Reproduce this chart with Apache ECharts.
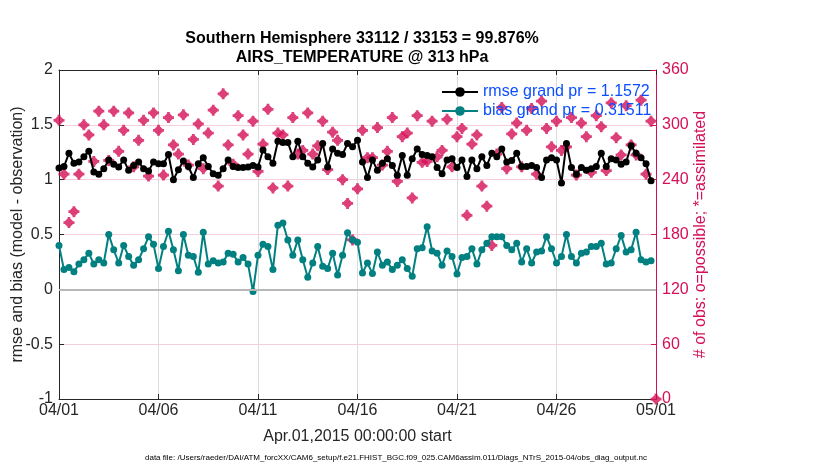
<!DOCTYPE html>
<html>
<head>
<meta charset="utf-8">
<script src="https://cdn.jsdelivr.net/npm/echarts@6/dist/echarts.min.js"></script>
<style>
html,body{margin:0;padding:0;background:#fff;}
#chart{width:830px;height:470px;}
</style>
</head>
<body>
<div id="chart"></div>
<script>
// time step in days between analysis times (6-hourly)
var stepDays = 0.25;

var xTickLabels = ['04/01','04/06','04/11','04/16','04/21','04/26','05/01'];

var rmse = [
1.106,1.12,1.24,1.15,1.16,1.21,1.26,1.07,1.05,1.10,
1.18,1.14,1.115,1.18,1.085,1.13,1.16,1.10,1.08,1.16,
1.145,1.145,1.23,1.00,1.09,1.17,1.12,1.02,1.145,1.20,
1.12,1.055,1.04,1.10,1.18,1.12,1.11,1.11,1.115,1.13,
1.115,1.27,1.21,1.15,1.35,1.34,1.34,1.21,1.35,1.21,
1.15,1.115,1.18,1.33,1.115,1.28,1.24,1.23,1.33,1.30,
1.36,1.16,1.02,1.18,1.085,1.15,1.19,1.13,1.04,1.22,
1.04,1.19,1.28,1.23,1.22,1.21,1.11,1.055,1.18,1.19,
1.11,1.18,1.03,1.18,1.10,1.21,1.13,1.24,1.21,1.28,
1.16,1.175,1.24,1.12,1.12,1.13,1.11,1.02,1.18,1.20,
1.18,0.97,1.33,1.11,1.05,1.11,1.085,1.10,1.12,1.24,
1.12,1.19,1.18,1.14,1.16,1.31,1.24,1.20,1.145,0.99
];

var bias = [
0.40,0.18,0.20,0.16,0.23,0.27,0.33,0.23,0.27,0.24,
0.50,0.36,0.24,0.40,0.30,0.22,0.27,0.37,0.48,0.41,
0.19,0.39,0.53,0.36,0.17,0.50,0.31,0.30,0.155,0.52,
0.23,0.26,0.24,0.25,0.33,0.32,0.25,0.29,0.23,-0.02,
0.31,0.41,0.39,0.18,0.585,0.605,0.45,0.31,0.45,0.27,
0.11,0.24,0.39,0.21,0.19,0.33,0.13,0.31,0.515,0.45,
0.43,0.15,0.24,0.145,0.34,0.22,0.25,0.18,0.22,0.27,
0.19,0.12,0.37,0.38,0.57,0.35,0.33,0.22,0.35,0.30,
0.14,0.29,0.30,0.37,0.23,0.36,0.42,0.48,0.48,0.48,
0.40,0.36,0.42,0.25,0.37,0.24,0.34,0.35,0.48,0.37,
0.24,0.30,0.50,0.30,0.24,0.33,0.34,0.39,0.39,0.42,
0.23,0.24,0.37,0.49,0.34,0.36,0.52,0.27,0.25,0.26
];

var nobs = [
305,246,193,205,246,300,289,260,315,300,
261,315,271,294,313,254,283,305,244,313,
294,245,308,278,268,311,256,284,301,252,
291,316,233,334,278,257,310,289,268,304,
249,279,317,231,291,289,233,308,268,272,
313,268,277,304,251,292,283,240,214,174,
230,294,264,264,297,256,271,308,238,287,
291,220,310,259,260,304,265,272,306,254,
287,296,201,279,289,233,211,168,268,319,
252,290,302,254,294,318,246,326,296,276,
304,272,276,308,245,302,287,248,310,298,
250,324,286,267,321,278,267,327,246,304,
0
];

var CRIMSON = '#d50f58';
var TEAL = '#008080';
var FONT = 'Liberation Sans, Arial, Helvetica, sans-serif';
var DIAMOND_PLUS = 'path://M4.5,0 L7.5,0 L7.5,1.5 L10.5,4.5 L12,4.5 L12,7.5 L10.5,7.5 L7.5,10.5 L7.5,12 L4.5,12 L4.5,10.5 L1.5,7.5 L0,7.5 L0,4.5 L1.5,4.5 L4.5,1.5 Z';

function pairs(arr){ return arr.map(function(v,i){ return [i*stepDays, v]; }); }

var chart = echarts.init(document.getElementById('chart'), null, {renderer:'canvas'});
var option = {
  animation:false,
  backgroundColor:'#fff',
  textStyle:{fontFamily:FONT},
  title:{
    text:'Southern Hemisphere 33112 / 33153 = 99.876%\nAIRS_TEMPERATURE @ 313 hPa',
    left:357, top:24, textAlign:'center',
    textStyle:{fontFamily:FONT,fontSize:16,fontWeight:'bold',color:'#000',lineHeight:19}
  },
  legend:{
    data:['rmse grand pr = 1.1572','bias grand pr = 0.31511'],
    orient:'vertical', left:436, top:79, itemWidth:36, itemHeight:12, itemGap:3,
    textStyle:{fontFamily:FONT,fontSize:16,color:'#0a4fff'}
  },
  grid:{left:59, right:174, top:70, bottom:71, containLabel:false, outerBoundsMode:'none'},
  xAxis:[{
    type:'value', min:0, max:30, interval:5,
    name:'Apr.01,2015 00:00:00 start', nameLocation:'middle', nameGap:30, nameMoveOverlap:false,
    nameTextStyle:{fontFamily:FONT,fontSize:16,color:'#262626'},
    axisLine:{show:true,onZero:false,lineStyle:{color:'#262626',width:1}},
    axisTick:{show:true,inside:true,length:5,lineStyle:{color:'#262626'}},
    axisLabel:{fontFamily:FONT,fontSize:16,color:'#262626',margin:4,
      formatter:function(v){ return xTickLabels[Math.round(v/5)]; }},
    splitLine:{show:true,lineStyle:{color:'#dcdcdc',width:1}}
  },{
    type:'value', min:0, max:30, interval:5, position:'top',
    axisLine:{show:true,onZero:false,lineStyle:{color:'#262626',width:1}},
    axisTick:{show:true,inside:true,length:5,lineStyle:{color:'#262626'}},
    axisLabel:{show:false}, splitLine:{show:false}
  }],
  yAxis:[{
    type:'value', min:-1, max:2, interval:0.5, position:'left',
    name:'rmse and bias (model - observation)', nameLocation:'middle', nameGap:33, nameMoveOverlap:false,
    nameTextStyle:{fontFamily:FONT,fontSize:16,color:'#262626'},
    axisLine:{show:true,onZero:false,lineStyle:{color:'#262626',width:1}},
    axisTick:{show:true,inside:true,length:5,lineStyle:{color:'#262626'}},
    axisLabel:{fontFamily:FONT,fontSize:16,color:'#262626',margin:6},
    splitLine:{show:false}
  },{
    type:'value', min:0, max:360, interval:60, position:'right',
    name:'# of obs: o=possible; *=assimilated', nameLocation:'middle', nameGap:37, nameMoveOverlap:false,
    nameRotate:90,
    nameTextStyle:{fontFamily:FONT,fontSize:16,color:CRIMSON},
    axisLine:{show:true,onZero:false,lineStyle:{color:CRIMSON,width:1}},
    axisTick:{show:true,inside:true,length:5,lineStyle:{color:CRIMSON}},
    axisLabel:{fontFamily:FONT,fontSize:16,color:CRIMSON,margin:6},
    splitLine:{show:true,lineStyle:{color:'#f7cfdc',width:1}}
  }],
  series:[
    {
      name:'obs count', type:'scatter', yAxisIndex:1, data:pairs(nobs),
      symbol:DIAMOND_PLUS, symbolSize:11,
      itemStyle:{color:CRIMSON}, z:2,
      markLine:{silent:true,symbol:'none',label:{show:false},
        lineStyle:{color:'#b8b8b8',width:2,type:'solid'},
        data:[{yAxis:120}]}
    },
    {
      name:'rmse grand pr = 1.1572', type:'line', yAxisIndex:0, data:pairs(rmse),
      symbol:'circle', symbolSize:7, showAllSymbol:true,
      lineStyle:{color:'#000',width:2}, itemStyle:{color:'#000'}, z:3
    },
    {
      name:'bias grand pr = 0.31511', type:'line', yAxisIndex:0, data:pairs(bias),
      symbol:'circle', symbolSize:7, showAllSymbol:true,
      lineStyle:{color:TEAL,width:2}, itemStyle:{color:TEAL}, z:3
    }
  ],
  graphic:[{
    type:'text', left:145, top:454,
    style:{text:'data file: /Users/raeder/DAI/ATM_forcXX/CAM6_setup/f.e21.FHIST_BGC.f09_025.CAM6assim.011/Diags_NTrS_2015-04/obs_diag_output.nc',
      fontFamily:FONT, fontSize:8, fill:'#000'}
  }]
};
chart.setOption(option);
</script>
</body>
</html>
